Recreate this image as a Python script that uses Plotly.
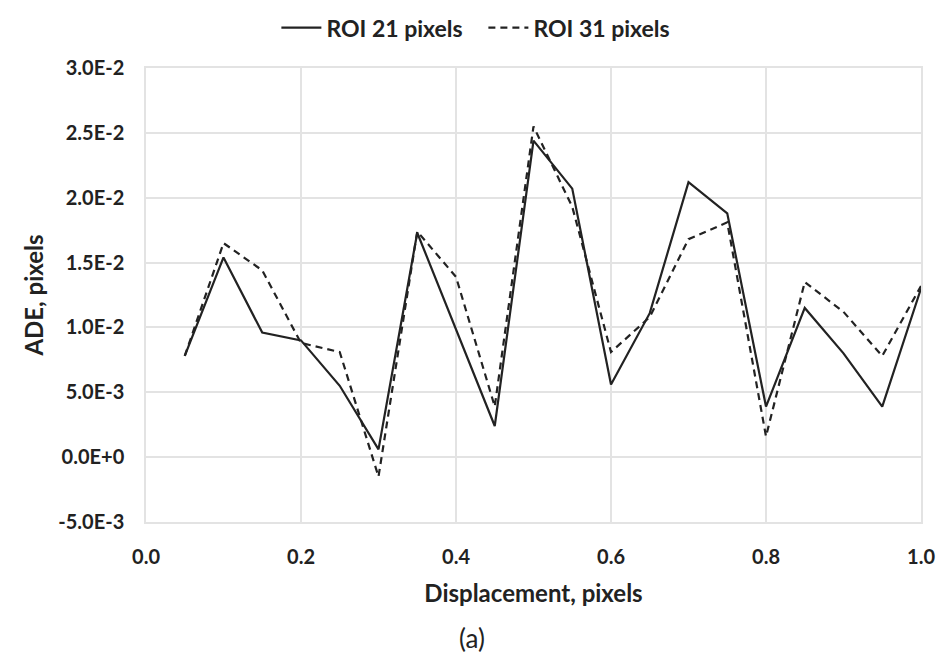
import plotly.graph_objects as go

displacement = [0.05, 0.10, 0.15, 0.20, 0.25, 0.30, 0.35, 0.40, 0.45, 0.50,
                0.55, 0.60, 0.65, 0.70, 0.75, 0.80, 0.85, 0.90, 0.95, 1.00]
roi21 = [0.0078, 0.0154, 0.0096, 0.0090, 0.0055, 0.0006, 0.0173, 0.0098, 0.0024, 0.0244,
         0.0207, 0.0056, 0.0111, 0.0212, 0.0188, 0.0039, 0.0115, 0.0080, 0.0039, 0.0130]
roi31 = [0.0078, 0.0165, 0.0144, 0.0088, 0.0081, -0.0015, 0.0174, 0.0139, 0.0039, 0.0255,
         0.0193, 0.0081, 0.0108, 0.0168, 0.0181, 0.0016, 0.0135, 0.0112, 0.0078, 0.0132]

y_tickvals = [-0.005, 0.0, 0.005, 0.010, 0.015, 0.020, 0.025, 0.030]
y_ticktext = ["-5.0E-3", "0.0E+0", "5.0E-3", "1.0E-2", "1.5E-2", "2.0E-2", "2.5E-2", "3.0E-2"]
x_tickvals = [0.0, 0.2, 0.4, 0.6, 0.8, 1.0]

FONT = "Lato"
INK = "#222222"
GRID = "#e3e3e3"

fig = go.Figure()
fig.add_trace(go.Scatter(x=displacement, y=roi21, mode="lines", name="ROI 21 pixels",
                         line=dict(color=INK, width=2.2, dash="solid")))
fig.add_trace(go.Scatter(x=displacement, y=roi31, mode="lines", name="ROI 31 pixels",
                         line=dict(color=INK, width=2.2, dash="7px,5px")))

fig.update_layout(
    width=943, height=657,
    margin=dict(l=146, r=22, t=68, b=135, autoexpand=False),
    paper_bgcolor="white", plot_bgcolor="white",
    font=dict(family=FONT, size=20, color=INK, weight="bold"),
    showlegend=True,
    legend=dict(orientation="h", xref="container", x=0.5126, xanchor="center",
                yref="container", y=0.958, yanchor="middle",
                font=dict(family=FONT, size=23, color=INK, weight="bold"),
                itemwidth=40, entrywidth=152, entrywidthmode="pixels",
                traceorder="normal"),
    xaxis=dict(range=[0, 1.0], tickvals=x_tickvals, tickformat=".1f",
               showgrid=True, gridcolor=GRID, gridwidth=1.5,
               showline=True, linecolor=GRID, linewidth=1.5, mirror=True,
               zeroline=False, ticks="", ticklabelstandoff=16, automargin=False,
               title=dict(text="Displacement, pixels", standoff=18,
                          font=dict(family=FONT, size=24, color=INK, weight="bold"))),
    yaxis=dict(range=[-0.005, 0.030], tickvals=y_tickvals, ticktext=y_ticktext,
               showgrid=True, gridcolor=GRID, gridwidth=1.5,
               showline=True, linecolor=GRID, linewidth=1.5, mirror=True,
               zeroline=False, ticks="", ticklabelstandoff=16, automargin=False,
               title=dict(text="ADE, pixels", standoff=8,
                          font=dict(family=FONT, size=24, color=INK, weight="bold"))),
    annotations=[dict(text="(a)", xref="paper", yref="paper", x=0.42, y=-0.255,
                      xanchor="center", yanchor="middle", showarrow=False,
                      font=dict(family=FONT, size=26, color=INK, weight="normal"))],
)

fig.write_html("out.html")
